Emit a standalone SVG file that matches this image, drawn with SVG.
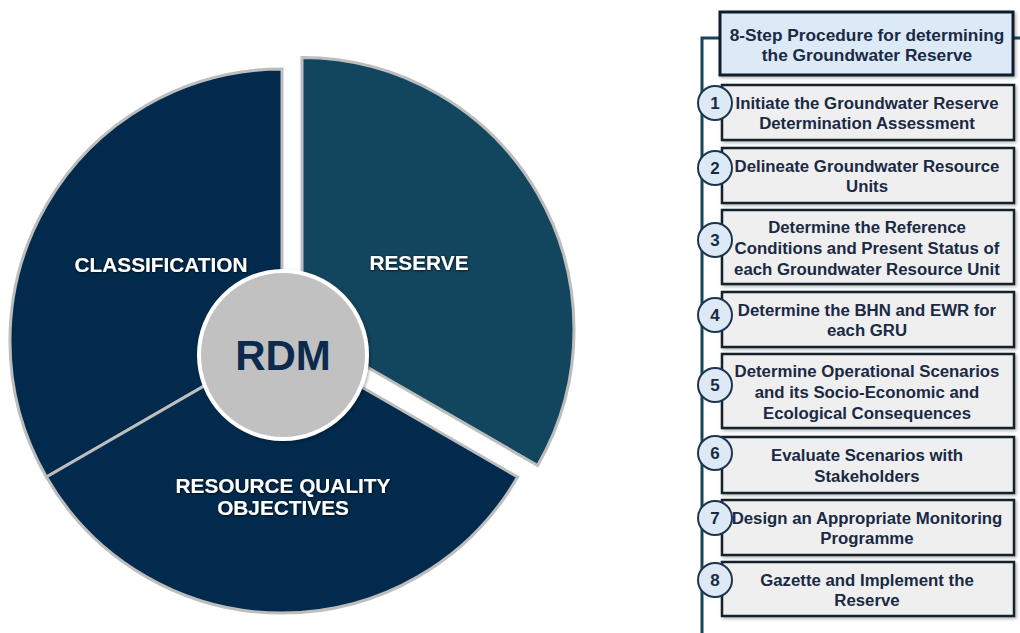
<svg xmlns="http://www.w3.org/2000/svg" width="1020" height="633" viewBox="0 0 1020 633">
  <style>
    .wedge { stroke: #bdbdbd; stroke-width: 3; stroke-linejoin: miter; }
    .dark { fill: #022a4c; }
    .teal { fill: #12455e; }
    .lbl { font-family: "Liberation Sans", Arial, sans-serif; font-weight: bold; font-size: 20.8px; fill: #ffffff; text-anchor: middle; }
    .hubtxt { font-family: "Liberation Sans", Arial, sans-serif; font-weight: bold; font-size: 42px; fill: #0b2a4d; text-anchor: middle; }
    .step { fill: #efefef; stroke: #16202c; stroke-width: 2.5; }
    .head { fill: #dce9f6; stroke: #0e1f2e; stroke-width: 3; }
    .num { fill: #dde9f5; stroke: #1d3550; stroke-width: 2; }
    .txt { font-family: "Liberation Sans", Arial, sans-serif; font-weight: bold; font-size: 16.8px; fill: #1a2944; text-anchor: middle; }
    .htxt { font-family: "Liberation Sans", Arial, sans-serif; font-weight: bold; font-size: 17.3px; fill: #1a2944; text-anchor: middle; }
    .ntxt { font-family: "Liberation Sans", Arial, sans-serif; font-weight: bold; font-size: 17px; fill: #1a2944; text-anchor: middle; }
    .frame { fill: none; stroke: #17465c; stroke-width: 3; }
  </style>
  <defs>
    <filter id="lblShadow" x="-10%" y="-30%" width="120%" height="160%">
      <feDropShadow dx="0.5" dy="0.5" stdDeviation="0.8" flood-color="#000000" flood-opacity="0.9"/>
    </filter>
    <filter id="softShadow" x="-10%" y="-10%" width="120%" height="120%">
      <feDropShadow dx="1.5" dy="1.5" stdDeviation="1.5" flood-color="#000000" flood-opacity="0.3"/>
    </filter>
  </defs>

  <!-- RDM pie -->
  <g id="classification">
    <path class="wedge dark" d="M282,341 L46.4,477 A272,272 0 0 1 282,69 Z"/>
    <text class="lbl" x="161" y="272" filter="url(#lblShadow)">CLASSIFICATION</text>
  </g>
  <g id="resource-quality-objectives">
    <path class="wedge dark" d="M282,341 L517.6,477 A272,272 0 0 1 46.4,477 Z"/>
    <text class="lbl" x="283" y="493" filter="url(#lblShadow)">RESOURCE QUALITY</text>
    <text class="lbl" x="283" y="515" filter="url(#lblShadow)">OBJECTIVES</text>
  </g>
  <g id="reserve">
    <path class="wedge teal" d="M302,329.5 L302,57.5 A272,272 0 0 1 537.6,465.5 Z"/>
    <text class="lbl" x="419" y="270" filter="url(#lblShadow)">RESERVE</text>
  </g>
  <g id="rdm-hub">
    <circle cx="283" cy="355" r="84" fill="#c1c1c1" stroke="#ffffff" stroke-width="4" filter="url(#softShadow)"/>
    <text class="hubtxt" x="283" y="370">RDM</text>
  </g>

  <!-- procedure frame -->
  <g id="connectors">
    <path class="frame" d="M702,633 L702,38 L1020,38"/>
  </g>

  <g id="header">
    <rect class="head" x="720" y="12" width="293" height="63" filter="url(#softShadow)"/>
    <text class="htxt" x="867" y="41">8-Step Procedure for determining</text>
    <text class="htxt" x="867" y="61">the Groundwater Reserve</text>
  </g>

  <g id="step1">
    <rect class="step" x="722" y="85" width="292" height="55" filter="url(#softShadow)"/>
    <text class="txt" x="867" y="109">Initiate the Groundwater Reserve</text>
    <text class="txt" x="867" y="129">Determination Assessment</text>
    <circle class="num" cx="715" cy="103" r="17"/>
    <text class="ntxt" x="715" y="109">1</text>
  </g>
  <g id="step2">
    <rect class="step" x="722" y="148" width="292" height="55" filter="url(#softShadow)"/>
    <text class="txt" x="867" y="172">Delineate Groundwater Resource</text>
    <text class="txt" x="867" y="192">Units</text>
    <circle class="num" cx="715" cy="168" r="17"/>
    <text class="ntxt" x="715" y="174">2</text>
  </g>
  <g id="step3">
    <rect class="step" x="722" y="210" width="292" height="74" filter="url(#softShadow)"/>
    <text class="txt" x="867" y="233">Determine the Reference</text>
    <text class="txt" x="867" y="254">Conditions and Present Status of</text>
    <text class="txt" x="867" y="275">each Groundwater Resource Unit</text>
    <circle class="num" cx="715" cy="240" r="17"/>
    <text class="ntxt" x="715" y="246">3</text>
  </g>
  <g id="step4">
    <rect class="step" x="722" y="292" width="292" height="55" filter="url(#softShadow)"/>
    <text class="txt" x="867" y="316">Determine the BHN and EWR for</text>
    <text class="txt" x="867" y="336">each GRU</text>
    <circle class="num" cx="715" cy="315" r="17"/>
    <text class="ntxt" x="715" y="321">4</text>
  </g>
  <g id="step5">
    <rect class="step" x="722" y="354" width="292" height="74" filter="url(#softShadow)"/>
    <text class="txt" x="867" y="377">Determine Operational Scenarios</text>
    <text class="txt" x="867" y="398">and its Socio-Economic and</text>
    <text class="txt" x="867" y="419">Ecological Consequences</text>
    <circle class="num" cx="715" cy="385" r="17"/>
    <text class="ntxt" x="715" y="391">5</text>
  </g>
  <g id="step6">
    <rect class="step" x="722" y="437" width="292" height="56" filter="url(#softShadow)"/>
    <text class="txt" x="867" y="461">Evaluate Scenarios with</text>
    <text class="txt" x="867" y="482">Stakeholders</text>
    <circle class="num" cx="715" cy="453" r="17"/>
    <text class="ntxt" x="715" y="459">6</text>
  </g>
  <g id="step7">
    <rect class="step" x="722" y="500" width="292" height="55" filter="url(#softShadow)"/>
    <text class="txt" x="867" y="524">Design an Appropriate Monitoring</text>
    <text class="txt" x="867" y="544">Programme</text>
    <circle class="num" cx="715" cy="518" r="17"/>
    <text class="ntxt" x="715" y="524">7</text>
  </g>
  <g id="step8">
    <rect class="step" x="722" y="562" width="292" height="54" filter="url(#softShadow)"/>
    <text class="txt" x="867" y="586">Gazette and Implement the</text>
    <text class="txt" x="867" y="606">Reserve</text>
    <circle class="num" cx="715" cy="580" r="17"/>
    <text class="ntxt" x="715" y="586">8</text>
  </g>
</svg>
